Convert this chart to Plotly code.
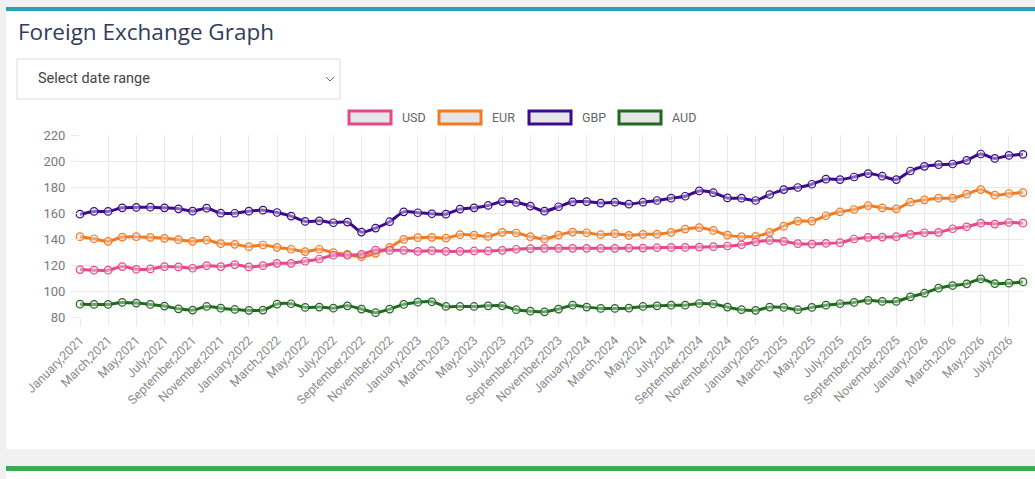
import pandas as pd
import plotly.graph_objects as go

# monthly labels, Jan 2021 .. Aug 2026
months = [d.strftime("%B,%Y") for d in pd.date_range("2021-01-01", "2026-08-01", freq="MS")]
tick_labels = months[::2]

usd = [116.5, 116.0, 116.0, 118.8, 116.7, 117.0, 118.8, 118.5, 117.5, 119.5,
       118.8, 120.3, 118.5, 119.5, 121.3, 121.3, 122.9, 124.6, 127.5, 127.5,
       128.2, 131.5, 131.2, 131.3, 130.5, 131.0, 130.5, 130.5, 130.8, 130.8,
       131.3, 132.1, 132.6, 132.8, 132.8, 132.8, 132.8, 132.8, 132.8, 133.0,
       133.0, 133.3, 133.5, 133.5, 133.8, 134.1, 134.6, 135.6, 137.7, 138.9,
       138.2, 136.4, 136.1, 136.7, 137.2, 140.0, 141.2, 141.5, 141.8, 143.6,
       144.8, 145.1, 147.9, 149.4, 152.2, 151.5, 152.7, 152.2]
eur = [141.8, 140.2, 138.2, 141.5, 141.8, 141.3, 140.5, 139.5, 138.2, 139.2,
       136.4, 135.9, 134.1, 135.4, 133.6, 132.1, 130.3, 132.1, 129.5, 128.2,
       126.4, 129.0, 133.6, 139.7, 141.0, 141.3, 140.7, 143.3, 143.0, 142.0,
       145.1, 144.6, 141.8, 140.0, 143.0, 145.3, 144.8, 143.3, 144.1, 142.8,
       143.6, 143.8, 145.1, 147.6, 148.7, 146.6, 143.0, 141.8, 142.0, 145.1,
       149.9, 153.8, 153.8, 157.9, 160.9, 162.7, 165.6, 164.0, 163.2, 168.3,
       170.1, 171.4, 171.4, 174.5, 178.0, 173.7, 175.0, 175.7]
gbp = [159.1, 161.2, 161.2, 164.0, 164.3, 164.5, 164.0, 163.2, 161.4, 163.7,
       159.9, 159.8, 161.4, 162.2, 160.4, 157.6, 153.5, 154.0, 152.5, 153.0,
       145.3, 148.4, 153.3, 160.9, 160.2, 159.4, 159.1, 163.0, 164.0, 165.8,
       168.8, 168.1, 165.3, 161.4, 164.8, 168.6, 168.8, 167.6, 168.3, 166.8,
       168.3, 169.6, 171.4, 172.9, 177.0, 175.6, 171.6, 171.4, 169.6, 174.2,
       178.0, 179.6, 182.1, 186.0, 185.7, 187.7, 190.3, 188.3, 185.7, 192.3,
       195.9, 197.2, 197.7, 200.5, 205.4, 202.0, 204.3, 205.1]
aud = [89.9, 89.7, 89.7, 91.2, 90.7, 89.7, 88.4, 86.3, 85.3, 88.1,
       86.8, 85.8, 85.1, 85.3, 89.9, 90.2, 87.4, 87.6, 86.8, 88.6,
       86.1, 83.3, 86.1, 89.7, 91.4, 91.7, 88.1, 88.1, 88.1, 88.6,
       88.6, 85.6, 84.5, 84.0, 86.1, 89.1, 87.6, 86.6, 86.6, 86.8,
       88.1, 88.6, 89.1, 89.1, 90.4, 90.0, 87.6, 85.6, 85.1, 87.6,
       87.4, 85.6, 87.4, 89.1, 90.2, 91.2, 92.8, 92.0, 92.0, 95.5,
       98.3, 102.2, 104.2, 105.5, 109.3, 105.7, 106.0, 107.0]

series = [("USD", usd, "#e8488a"), ("EUR", eur, "#f47a20"),
          ("GBP", gbp, "#3c0a8c"), ("AUD", aud, "#1e6a1e")]

W, H = 1035, 479
L, R, T, B = 80, 1023, 135, 317


def px(x):
    return (x - L) / (R - L)


def py(y):
    return (B - y) / (B - T)


fig = go.Figure()
for name, vals, col in reversed(series):
    fig.add_trace(go.Scatter(
        x=months, y=vals, name=name, mode="lines+markers",
        line=dict(color=col, width=3, shape="spline", smoothing=0.7),
        marker=dict(size=7.5, color="rgba(225,225,225,0.45)", line=dict(color=col, width=1.2)),
        cliponaxis=False, hoverinfo="skip", showlegend=False,
    ))

shapes = [
    # card + coloured top bars
    dict(type="rect", xref="paper", yref="paper", x0=px(6), x1=px(1040), y0=py(449), y1=py(8),
         fillcolor="white", line=dict(width=0), layer="below"),
    dict(type="rect", xref="paper", yref="paper", x0=px(6), x1=px(1040), y0=py(11), y1=py(7),
         fillcolor="#2aa2b6", line=dict(width=0), layer="below"),
    dict(type="rect", xref="paper", yref="paper", x0=px(6), x1=px(1040), y0=py(480), y1=py(467),
         fillcolor="white", line=dict(width=0), layer="below"),
    dict(type="rect", xref="paper", yref="paper", x0=px(6), x1=px(1040), y0=py(471), y1=py(466),
         fillcolor="#3aab55", line=dict(width=0), layer="below"),
    # date range dropdown
    dict(type="rect", xref="paper", yref="paper", x0=px(17), x1=px(340), y0=py(99), y1=py(59),
         fillcolor="white", line=dict(color="#dcdcdc", width=1), layer="below"),
    dict(type="path", xref="paper", yref="paper",
         path=f"M {px(326)} {py(77)} L {px(330)} {py(81)} L {px(334)} {py(77)}",
         line=dict(color="#666", width=1)),
]

annotations = [
    dict(text="Foreign Exchange Graph", x=px(16), y=py(31), xref="paper", yref="paper",
         xanchor="left", yanchor="middle", showarrow=False,
         font=dict(family="Open Sans", size=22.5, color="#333b5c")),
    dict(text="Select date range", x=px(36), y=py(78), xref="paper", yref="paper",
         xanchor="left", yanchor="middle", showarrow=False,
         font=dict(family="Roboto", size=14.5, color="#444")),
]

# legend drawn by hand (chart.js style boxes)
for k, (name, vals, col) in enumerate(series):
    x0 = 349 + 90 * k
    shapes.append(dict(type="rect", xref="paper", yref="paper", x0=px(x0), x1=px(x0 + 42),
                       y0=py(124), y1=py(111), fillcolor="#e6e6e6", line=dict(color=col, width=3)))
    annotations.append(dict(text=name, x=px(x0 + 51), y=py(117.5), xref="paper", yref="paper",
                            xanchor="left", yanchor="middle", showarrow=False,
                            font=dict(family="Roboto", size=12.5, color="#666")))

fig.update_layout(
    width=W, height=H,
    margin=dict(l=L, r=W - R, t=T, b=H - B, pad=0),
    paper_bgcolor="#f1f1f1", plot_bgcolor="white",
    shapes=shapes, annotations=annotations,
    showlegend=False,
    xaxis=dict(type="category", range=[0, len(months) - 1], tickmode="array",
               tickvals=tick_labels, ticktext=tick_labels, tickangle=-45,
               showgrid=True, gridcolor="#e9e9e9", ticks="outside", ticklen=8,
               tickcolor="#e9e9e9", zeroline=False, showline=False,
               ticklabelstandoff=2,
               tickfont=dict(family="Roboto", size=12.5, color="#8c8c8c")),
    yaxis=dict(range=[80, 220], dtick=20, showgrid=True, gridcolor="#e9e9e9",
               ticks="outside", ticklen=8, tickcolor="#e9e9e9", zeroline=False,
               showline=False, ticklabelstandoff=3,
               tickfont=dict(family="Roboto", size=13, color="#7a7a7a")),
)

# drop the default 8px body margin so the figure sits at the page origin
fig.write_html("out.html", config={"displayModeBar": False},
               post_script="document.body.style.margin='0';")
